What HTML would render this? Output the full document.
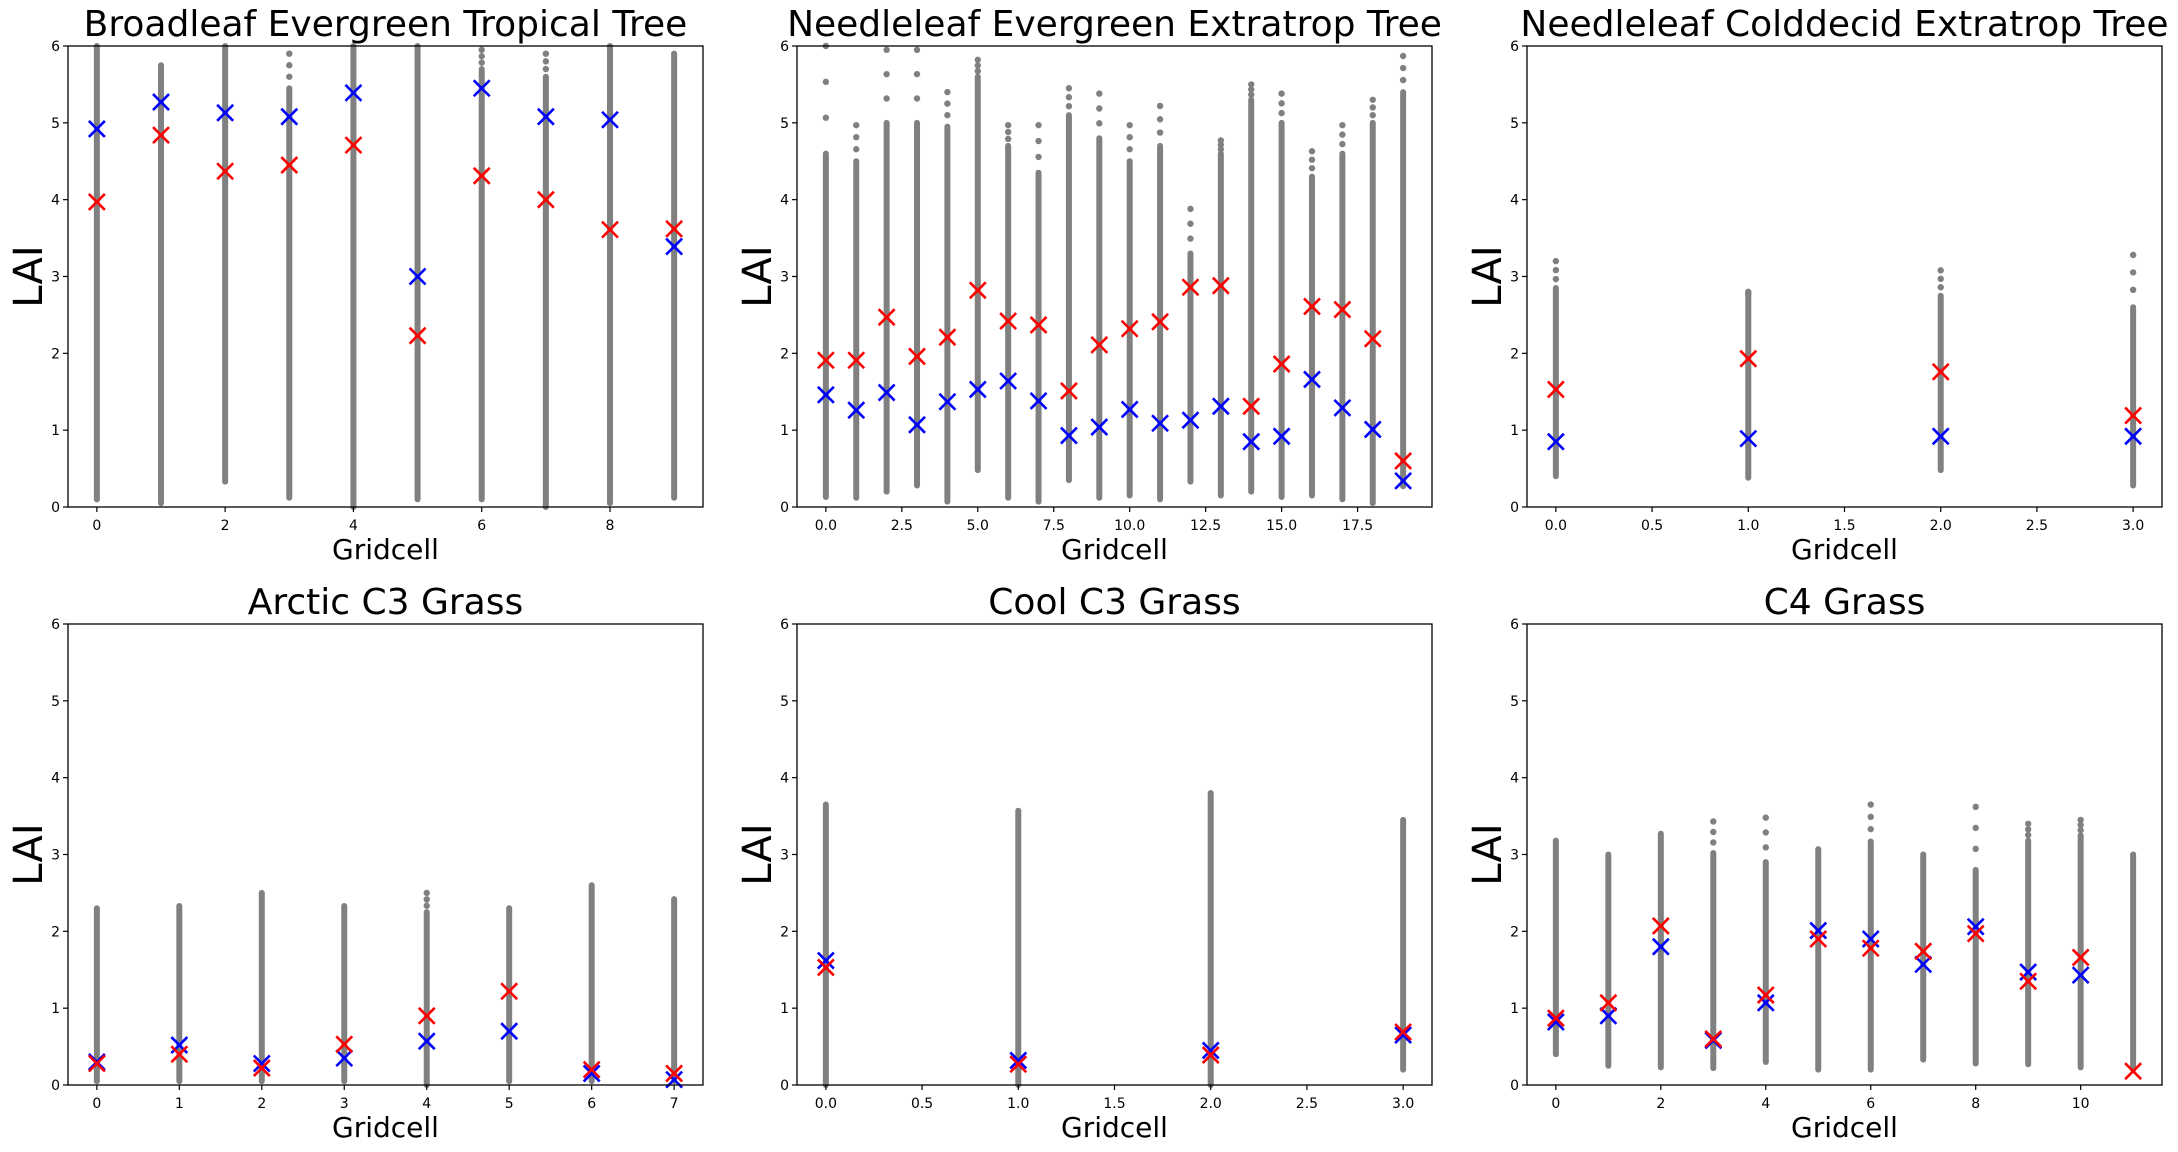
<!DOCTYPE html>
<html><head><meta charset="utf-8"><style>
html,body{margin:0;padding:0;background:#fff}
svg{display:block}
text{font-family:"DejaVu Sans","Liberation Sans",sans-serif;fill:#000}
</style></head><body>
<svg id="fig" width="2178" height="1152" viewBox="0 0 2178 1152" xmlns="http://www.w3.org/2000/svg"></svg>
<script>
// ---- data ----
const titles = ["Broadleaf Evergreen Tropical Tree","Needleleaf Evergreen Extratrop Tree","Needleleaf Colddecid Extratrop Tree","Arctic C3 Grass","Cool C3 Grass","C4 Grass"];
const xMax = [9,19,3,7,3,11];
const xTickLabels = [
 ["0","2","4","6","8"],
 ["0.0","2.5","5.0","7.5","10.0","12.5","15.0","17.5"],
 ["0.0","0.5","1.0","1.5","2.0","2.5","3.0"],
 ["0","1","2","3","4","5","6","7"],
 ["0.0","0.5","1.0","1.5","2.0","2.5","3.0"],
 ["0","2","4","6","8","10"]];
const yTickLabels = ["0","1","2","3","4","5","6"];
const colLo = [
 [0.1,0.05,0.33,0.12,0.0,0.1,0.1,0.0,0.05,0.12],
 [0.13,0.12,0.2,0.28,0.07,0.48,0.12,0.07,0.35,0.12,0.15,0.1,0.33,0.15,0.2,0.13,0.15,0.1,0.05,0.27],
 [0.4,0.38,0.48,0.28],
 [0.05,0.05,0.05,0.05,0.0,0.05,0.05,0.05],
 [0.0,0.0,0.0,0.2],
 [0.4,0.25,0.23,0.22,0.3,0.2,0.2,0.33,0.28,0.27,0.23,0.2]];
const colHi = [
 [6,5.75,6,5.45,6,6,5.7,5.6,6,5.9],
 [4.6,4.5,5.0,5.0,4.95,5.6,4.7,4.35,5.1,4.8,4.5,4.7,3.3,4.6,5.3,5.0,4.3,4.6,5.0,5.4],
 [2.85,2.75,2.75,2.6],
 [2.3,2.33,2.5,2.33,2.25,2.3,2.6,2.42],
 [3.65,3.57,3.8,3.45],
 [3.18,3.0,3.27,3.02,2.9,3.07,3.17,3.0,2.8,3.18,3.25,3.0]];
const colTop = [
 [6,5.75,6,5.9,6,6,5.95,5.9,6,5.9],
 [6,4.97,5.95,5.95,5.4,5.82,4.97,4.97,5.45,5.38,4.97,5.22,3.88,4.77,5.5,5.38,4.63,4.97,5.3,5.87],
 [3.2,2.8,3.08,3.28],
 [2.3,2.33,2.5,2.33,2.5,2.3,2.6,2.42],
 [3.65,3.57,3.8,3.45],
 [3.18,3.0,3.27,3.43,3.48,3.07,3.65,3.0,3.62,3.4,3.45,3.0]];
const blueVals = [
 [4.92,5.27,5.13,5.08,5.39,3.0,5.45,5.08,5.04,3.39],
 [1.46,1.26,1.49,1.07,1.37,1.53,1.64,1.38,0.93,1.04,1.27,1.09,1.13,1.31,0.85,0.92,1.66,1.29,1.01,0.34],
 [0.85,0.89,0.92,0.92],
 [0.3,0.52,0.28,0.35,0.57,0.7,0.15,0.07],
 [1.62,0.32,0.45,0.65],
 [0.82,0.9,1.8,0.58,1.07,2.01,1.9,1.57,2.06,1.47,1.43]];
const redVals = [
 [3.97,4.84,4.37,4.45,4.71,2.23,4.31,4.0,3.61,3.62],
 [1.91,1.91,2.47,1.96,2.21,2.82,2.42,2.37,1.51,2.11,2.32,2.41,2.86,2.88,1.31,1.86,2.61,2.57,2.19,0.6],
 [1.53,1.93,1.76,1.19],
 [0.28,0.4,0.22,0.53,0.9,1.22,0.2,0.15],
 [1.53,0.27,0.39,0.69],
 [0.87,1.07,2.07,0.6,1.17,1.9,1.78,1.74,1.97,1.35,1.66,0.18]];

// ---- layout ----
const NS="http://www.w3.org/2000/svg";
const svg=document.getElementById('fig');
const colsX=[68,797,1527], rowsY=[46,624], W=635, H=461;
function mk(tag,attrs,parent){const e=document.createElementNS(NS,tag);for(const k in attrs)e.setAttribute(k,attrs[k]);(parent||svg).appendChild(e);return e;}

for(let p=0;p<6;p++){
  const L=colsX[p%3], T=rowsY[Math.floor(p/3)];
  const m=xMax[p]*0.05, x0=-m, x1=xMax[p]+m;
  const sx=v=>L+(v-x0)/(x1-x0)*W;
  const sy=v=>T+H-(v/6)*H;
  const g=mk('g',{});
  
  
  for(let i=0;i<colLo[p].length;i++){
    const x=sx(i);
    const ln=mk('line',{x1:x,x2:x,y1:sy(colLo[p][i]),y2:sy(colHi[p][i]),stroke:'#808080','stroke-width':6,'stroke-linecap':'round'},g);
    
    
    if(colTop[p][i]>colHi[p][i]+0.01){
      const n=3;
      for(let k=1;k<=n;k++){
        const v=colHi[p][i]+(colTop[p][i]-colHi[p][i])*k/n;
        const c=mk('circle',{cx:x,cy:sy(v),r:3.2,fill:'#808080'},g);
        
        
      }
    }
  }
  const drawX=(vals,color,name)=>{
    for(let i=0;i<vals.length;i++){
      const x=sx(i), y=sy(vals[i]), s=8;
      const path=mk('path',{d:`M${x-s},${y-s}L${x+s},${y+s}M${x-s},${y+s}L${x+s},${y-s}`,stroke:color,'stroke-width':2.6,fill:'none'},g);
      
      
    }
  };
  drawX(blueVals[p],'#0000ff','blue-marker');
  drawX(redVals[p],'#ff0000','red-marker');
  const fr=mk('rect',{x:L,y:T,width:W,height:H,fill:'none',stroke:'#000','stroke-width':1.3},g);
  
  
  yTickLabels.forEach((lab,i)=>{
    const y=sy(+lab);
    mk('line',{x1:L-5,x2:L,y1:y,y2:y,stroke:'#000','stroke-width':1.2},g);
    const t=mk('text',{x:L-8,y:y+5,'text-anchor':'end','font-size':14},g);
    t.textContent=lab;
    
    
  });
  xTickLabels[p].forEach(lab=>{
    const x=sx(parseFloat(lab));
    mk('line',{x1:x,x2:x,y1:T+H,y2:T+H+5,stroke:'#000','stroke-width':1.2},g);
    const t=mk('text',{x:x,y:T+H+23,'text-anchor':'middle','font-size':14},g);
    t.textContent=lab;
    
    
  });
  const tt=mk('text',{x:L+W/2,y:T-10,'text-anchor':'middle','font-size':36},g);
  tt.textContent=titles[p];
  
  
  const xl=mk('text',{x:L+W/2,y:T+H+52,'text-anchor':'middle','font-size':28},g);
  xl.textContent='Gridcell';
  
  
  const yl=mk('text',{x:0,y:0,'text-anchor':'middle','font-size':40,transform:`translate(${L-26},${T+H/2}) rotate(-90)`},g);
  yl.textContent='LAI';
  
  
}
</script>
</body></html>
